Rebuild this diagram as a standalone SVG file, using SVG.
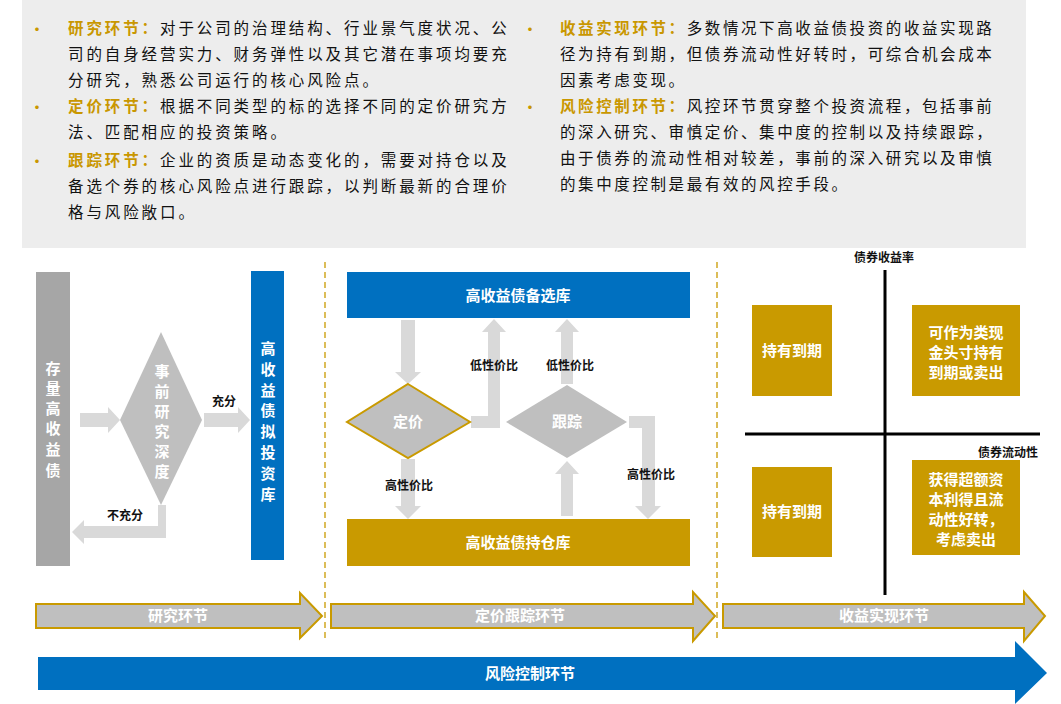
<svg xmlns="http://www.w3.org/2000/svg" width="1061" height="704" viewBox="0 0 1061 704">
<defs>
<style>
text{font-family:"Noto Sans CJK SC","Noto Sans",sans-serif}
.t{font-size:15.5px;fill:#111}
.l{letter-spacing:2.9px}
.r{letter-spacing:2.6px}
.k{fill:#C99700;font-weight:bold}
.w{fill:#fff;font-weight:bold;font-size:15px;text-anchor:middle}
.b{fill:#111;font-weight:bold;font-size:12px;text-anchor:middle}
.la{fill:#D9D9D9}
.gold{fill:#C99A00}
.dash{stroke:#C99A00;stroke-width:1.3;stroke-dasharray:6,4}
.phase{fill:#BFBFBF;stroke:#C99A00;stroke-width:2}
</style>
</defs>
<rect x="22" y="0" width="1004" height="248" fill="#EDEDED"/>
<g id="notes">
<g class="k" font-size="14"><text x="30" y="34">•</text><text x="30" y="112">•</text><text x="30" y="166">•</text><text x="523" y="34">•</text><text x="523" y="112">•</text></g>
<text class="t l" x="68" y="34"><tspan class="k">研究环节：</tspan>对于公司的治理结构、行业景气度状况、公</text>
<text class="t l" x="68" y="60">司的自身经营实力、财务弹性以及其它潜在事项均要充</text>
<text class="t l" x="68" y="86">分研究，熟悉公司运行的核心风险点。</text>
<text class="t l" x="68" y="112"><tspan class="k">定价环节：</tspan>根据不同类型的标的选择不同的定价研究方</text>
<text class="t l" x="68" y="138">法、匹配相应的投资策略。</text>
<text class="t l" x="68" y="166"><tspan class="k">跟踪环节：</tspan>企业的资质是动态变化的，需要对持仓以及</text>
<text class="t l" x="68" y="192">备选个券的核心风险点进行跟踪，以判断最新的合理价</text>
<text class="t l" x="68" y="218">格与风险敞口。</text>
<text class="t r" x="560" y="34"><tspan class="k">收益实现环节：</tspan>多数情况下高收益债投资的收益实现路</text>
<text class="t r" x="560" y="60">径为持有到期，但债券流动性好转时，可综合机会成本</text>
<text class="t r" x="560" y="86">因素考虑变现。</text>
<text class="t r" x="560" y="112"><tspan class="k">风险控制环节：</tspan>风控环节贯穿整个投资流程，包括事前</text>
<text class="t r" x="560" y="138">的深入研究、审慎定价、集中度的控制以及持续跟踪，</text>
<text class="t r" x="560" y="164">由于债券的流动性相对较差，事前的深入研究以及审慎</text>
<text class="t r" x="560" y="190">的集中度控制是最有效的风控手段。</text>
</g>
<line class="dash" x1="325" y1="262" x2="325" y2="640"/>
<line class="dash" x1="717" y1="262" x2="717" y2="640"/>
<g id="connectors">
<polygon class="la" points="80,413 108,413 108,407 120,420 108,433 108,427 80,427"/>
<polygon class="la" points="204,413 238,413 238,407 250,420 238,433 238,427 204,427"/>
<polygon class="la" points="158,505 166,505 166,538 84,538 84,544 72,532 84,520 84,526 158,526"/>
<polygon class="la" points="401,320 415,320 415,372 421,372 408,384 395,372 401,372"/>
<polygon class="la" points="401,459 415,459 415,506 421,506 408,519 395,506 401,506"/>
<polygon class="la" points="471,416 488,416 488,332 482,332 494,319 506,332 500,332 500,428 471,428"/>
<polygon class="la" points="561,384 561,332 555,332 567,319 579,332 573,332 573,384"/>
<polygon class="la" points="561,516 561,474 555,474 567,461 579,474 573,474 573,516"/>
<polygon class="la" points="629,416 655,416 655,506 661,506 648,519 635,506 642,506 642,428 629,428"/>
</g>
<g id="n1"><rect x="36" y="272" width="34" height="294" fill="#A6A6A6"/><text class="w" font-size="17"><tspan x="53" y="374">存</tspan><tspan x="53" y="394">量</tspan><tspan x="53" y="414">高</tspan><tspan x="53" y="434">收</tspan><tspan x="53" y="455">益</tspan><tspan x="53" y="476">债</tspan></text></g>
<g id="n2"><polygon points="161,332 202,420 161,505 120,420" fill="#BFBFBF"/><text class="w" font-size="14"><tspan x="162" y="377">事</tspan><tspan x="162" y="397">前</tspan><tspan x="162" y="417">研</tspan><tspan x="162" y="437">究</tspan><tspan x="162" y="457">深</tspan><tspan x="162" y="477">度</tspan></text></g>
<g id="n3"><rect x="251" y="271" width="33" height="289" fill="#0070C0"/><text class="w" font-size="17"><tspan x="268" y="354">高</tspan><tspan x="268" y="375">收</tspan><tspan x="268" y="396">益</tspan><tspan x="268" y="416">债</tspan><tspan x="268" y="437">拟</tspan><tspan x="268" y="458">投</tspan><tspan x="268" y="479">资</tspan><tspan x="268" y="500">库</tspan></text></g>
<text class="b" x="224" y="406">充分</text>
<text class="b" x="125" y="520">不充分</text>
<g id="n4"><rect x="347" y="272" width="343" height="46" fill="#0070C0"/><text class="w" x="518" y="301">高收益债备选库</text></g>
<g id="n5"><rect x="347" y="519" width="343" height="47" fill="#C99A00"/><text class="w" x="518" y="548">高收益债持仓库</text></g>
<g id="n6"><polygon points="408,384 470,422 408,458 347,422" fill="#BFBFBF" stroke="#C99A00" stroke-width="2"/><text class="w" x="408" y="427" font-size="13">定价</text></g>
<g id="n7"><polygon points="567,385 627,422 567,458 506,422" fill="#BFBFBF"/><text class="w" x="567" y="427" font-size="13">跟踪</text></g>
<text class="b" x="494" y="370">低性价比</text>
<text class="b" x="570" y="370">低性价比</text>
<text class="b" x="409" y="490">高性价比</text>
<text class="b" x="651" y="479">高性价比</text>
<g id="axes" stroke="#000" stroke-width="3"><line x1="885" y1="270" x2="885" y2="595"/><line x1="745" y1="434" x2="1040" y2="434"/></g>
<text class="b" x="884" y="262">债券收益率</text>
<text class="b" x="1008" y="457">债券流动性</text>
<g id="q1"><rect x="752" y="305" width="80" height="91" class="gold"/><text class="w" x="792" y="356" font-size="14">持有到期</text></g>
<g id="q2"><rect x="912" y="305" width="108" height="91" class="gold"/><text class="w" font-size="13"><tspan x="966" y="338">可作为类现</tspan><tspan x="966" y="358">金头寸持有</tspan><tspan x="966" y="378">到期或卖出</tspan></text></g>
<g id="q3"><rect x="752" y="467" width="80" height="90" class="gold"/><text class="w" x="792" y="517" font-size="14">持有到期</text></g>
<g id="q4"><rect x="912" y="460" width="108" height="95" class="gold"/><text class="w" font-size="13"><tspan x="966" y="485">获得超额资</tspan><tspan x="966" y="505">本利得且流</tspan><tspan x="966" y="525">动性好转，</tspan><tspan x="966" y="545">考虑卖出</tspan></text></g>
<g id="p1"><polygon class="phase" points="36,604 300,604 300,593 322,616 300,638 300,628 36,628"/><text class="w" x="178" y="621" font-size="13">研究环节</text></g>
<g id="p2"><polygon class="phase" points="331,604 693,604 693,592 715,616 693,641 693,628 331,628"/><text class="w" x="520" y="621" font-size="13">定价跟踪环节</text></g>
<g id="p3"><polygon class="phase" points="723,604 1024,604 1024,592 1045,616 1024,641 1024,628 723,628"/><text class="w" x="884" y="621" font-size="13">收益实现环节</text></g>
<g id="p4"><polygon points="38,657 1015,657 1015,641 1047,673 1015,704 1015,690 38,690" fill="#0070C0"/><text class="w" x="530" y="679" font-size="13">风险控制环节</text></g>
</svg>
